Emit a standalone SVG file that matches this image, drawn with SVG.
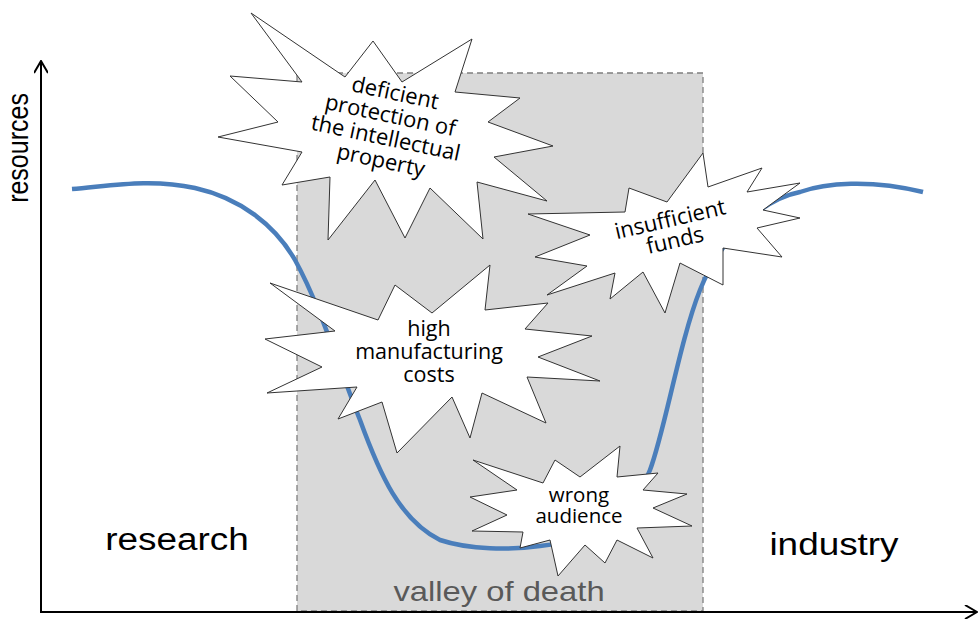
<svg xmlns="http://www.w3.org/2000/svg" width="978" height="619" viewBox="0 0 978 619">
<defs>
<marker id="arr" viewBox="0 0 14 14" refX="13" refY="7" markerWidth="14" markerHeight="14" markerUnits="userSpaceOnUse" orient="auto">
<path d="M1,0 L13,7 L1,14" fill="none" stroke="#000" stroke-width="2"/>
</marker>
</defs>
<style>
.star{fill:#fff;stroke:#333;stroke-width:1;stroke-linejoin:miter}
.st{font-family:"Open Sans","DejaVu Sans",sans-serif;font-size:22px;fill:#000;text-anchor:middle}
.ax{font-family:"Liberation Sans",Arial,sans-serif;fill:#000;text-anchor:middle}
.axis{stroke:#000;stroke-width:2;fill:none}
</style>
<rect width="978" height="619" fill="#fff"/>
<g id="valley">
<rect x="297" y="73" width="406" height="538" fill="#d9d9d9" stroke="#7f7f7f" stroke-width="1.3" stroke-dasharray="6,4"/>
<text transform="translate(499,601) scale(1.17,1)" style="font-family:'Liberation Sans',Arial,sans-serif;font-size:28px;fill:#595959;text-anchor:middle">valley of death</text>
</g>
<g id="connectors">
<line class="axis" x1="41" y1="613" x2="41" y2="61" marker-end="url(#arr)"/>
<line class="axis" x1="40" y1="612" x2="977" y2="612" marker-end="url(#arr)"/>
<path id="curve" d="M72,189 C110,186 150,178 195,188 C240,198 275,225 295,260 C320,305 340,370 360,420 C380,475 400,520 440,540 C470,550 510,550 540,546 C600,540 635,510 650,470 C665,430 680,340 700,290 C720,240 760,200 800,192 C825,183 870,179 923,192" fill="none" stroke="#4a7ebb" stroke-width="4.5"/>
</g>
<g id="label-resources"><text class="ax" transform="translate(28,148) scale(1.2,1) rotate(-90)" style="font-size:25px">resources</text></g>
<g id="label-research"><text class="ax" transform="translate(177,550) scale(1.19,1)" style="font-size:31px">research</text></g>
<g id="label-industry"><text class="ax" transform="translate(834,555) scale(1.19,1)" style="font-size:31px">industry</text></g>
<g id="star-ip">
<polygon class="star" points="251,13 345,77 373,41 402,82 472,39 455,92 520,98 488,122 553,146 494,157 547,201 477,182 483,239 430,188 405,238 375,180 328,240 330,177 282,185 302,152 218,137 278,122 230,76 302,82"/>
<g transform="translate(388,127) rotate(12)">
<text class="st" x="0" y="-27.5">deficient</text>
<text class="st" x="0" y="-4.5">protection of</text>
<text class="st" x="0" y="18.5">the intellectual</text>
<text class="st" x="0" y="41.5">property</text>
</g>
</g>
<g id="star-funds">
<polygon class="star" points="528,214 625,212 629,188 667,202 703,153 708,187 762,168 747,192 800,183 763,210 800,218 757,228 782,257 723,248 723,285 680,263 665,313 643,272 610,299 615,273 547,295 587,266 535,257 590,235"/>
<g transform="translate(672.5,229.5) rotate(-13)">
<text class="st" x="0" y="-3">insufficient</text>
<text class="st" x="0" y="18.5">funds</text>
</g>
</g>
<g id="star-costs">
<polygon class="star" points="270,283 378,320 395,285 432,313 490,265 485,310 548,303 525,329 592,336 538,357 600,381 527,377 546,423 482,393 470,438 452,397 397,453 382,402 338,419 357,387 267,393 322,367 265,339 335,331"/>
<text class="st" x="429" y="336" style="font-size:21.5px">high</text>
<text class="st" x="429" y="359" style="font-size:21.5px">manufacturing</text>
<text class="st" x="429" y="382" style="font-size:21.5px">costs</text>
</g>
<g id="star-audience">
<polygon class="star" points="473,460 543,483 555,460 580,477 620,446 617,477 658,473 643,490 687,494 653,508 692,526 637,528 653,558 617,540 605,563 585,545 558,576 550,540 520,548 523,532 472,531 507,515 470,497 517,490"/>
<text class="st" x="579" y="502" style="font-size:20.5px">wrong</text>
<text class="st" x="579" y="523" style="font-size:20.5px">audience</text>
</g>
</svg>
